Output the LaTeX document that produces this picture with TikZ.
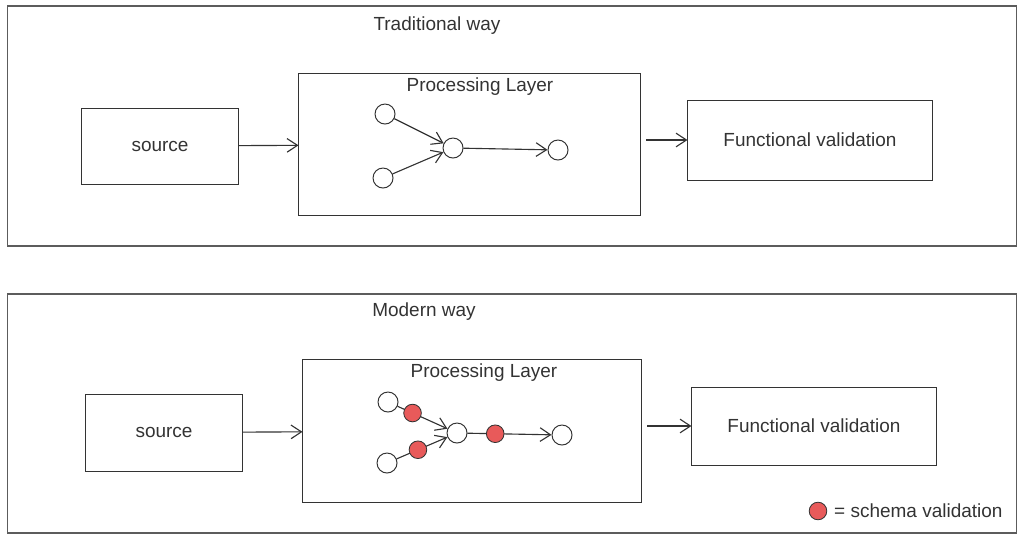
\documentclass[tikz,border=0pt]{standalone}
\usepackage{fontspec}
\setmainfont{Liberation Sans}
\usetikzlibrary{positioning, arrows.meta}
\definecolor{inkgray}{HTML}{333333}
\definecolor{schemared}{HTML}{E85A5A}

\begin{document}
\begin{tikzpicture}[x=0.025cm, y=-0.025cm,
        >={Straight Barb[length=2.6mm, width=3.4mm]},
        every node/.style={font=\fontsize{13.5}{15}\selectfont, text=inkgray},
        frame/.style={draw=inkgray!80, line width=0.8pt, inner sep=0pt},
        box/.style={draw=inkgray, line width=0.7pt, inner sep=0pt},
        vertex/.style={circle, draw=inkgray, line width=0.7pt, minimum size=0.5cm, inner sep=0pt},
        vdot/.style={circle, draw=inkgray, fill=schemared, line width=0.6pt, minimum size=0.44cm, inner sep=0pt},
        link/.style={->, draw=inkgray, line width=0.8pt}]
        \useasboundingbox (0,0) rectangle (1024,541);

        % Traditional way
        \node[frame, minimum width=25.2cm, minimum height=6cm] (way1) at (512,126) {};
        \node (title1) at (437,26) {Traditional way};
        \node[box, minimum width=3.9cm, minimum height=1.9cm] (src1) at (160,146) {source};
        \node[box, minimum width=8.525cm, minimum height=3.525cm] (proc1) at (469.5,144.5) {};
        \node (lay1) at (480,87) {Processing Layer};
        \node[box, minimum width=6.1cm, minimum height=2cm] (func1) at (810,140) {Functional validation};

        \node[vertex] (a1) at (385,114) {};
        \node[vertex] (b1) at (383,178) {};
        \node[vertex] (c1) at (453,148) {};
        \node[vertex] (d1) at (558,150) {};

        % Traditional arrows
        \draw[link] (src1) -- (proc1);
        \draw[link, shorten <=4pt] (proc1.east |- func1) -- (func1);
        \draw[link] (a1) -- (c1);
        \draw[link] (b1) -- (c1);
        \draw[link] (c1) -- (d1);

        % Modern way
        \node[frame, minimum width=25.2cm, minimum height=5.975cm] (way2) at (512,413.5) {};
        \node (title2) at (424,312) {Modern way};
        \node[box, minimum width=3.9cm, minimum height=1.925cm] (src2) at (164,432.5) {source};
        \node[box, minimum width=8.45cm, minimum height=3.55cm] (proc2) at (472,431) {};
        \node (lay2) at (484,373) {Processing Layer};
        \node[box, minimum width=6.1cm, minimum height=1.95cm] (func2) at (814,426) {Functional validation};

        \node[vertex] (a2) at (388,402) {};
        \node[vertex] (b2) at (387,463) {};
        \node[vertex] (c2) at (457,433) {};
        \node[vertex] (d2) at (562,435) {};

        % Modern arrows
        \draw[link] (src2) -- (proc2);
        \draw[link, shorten <=4pt] (proc2.east |- func2) -- (func2);
        \draw[link] (a2) -- node[vdot, pos=0.3] (v1) {} (c2);
        \draw[link] (b2) -- node[vdot, pos=0.42] (v2) {} (c2);
        \draw[link] (c2) -- node[vdot, pos=0.33] (v3) {} (d2);

        % Legend
        \node[vdot] (key) at (818,511) {};
        \node[right=0.05cm of key] (keytext) {= schema validation};
    \end{tikzpicture}
\end{document}
